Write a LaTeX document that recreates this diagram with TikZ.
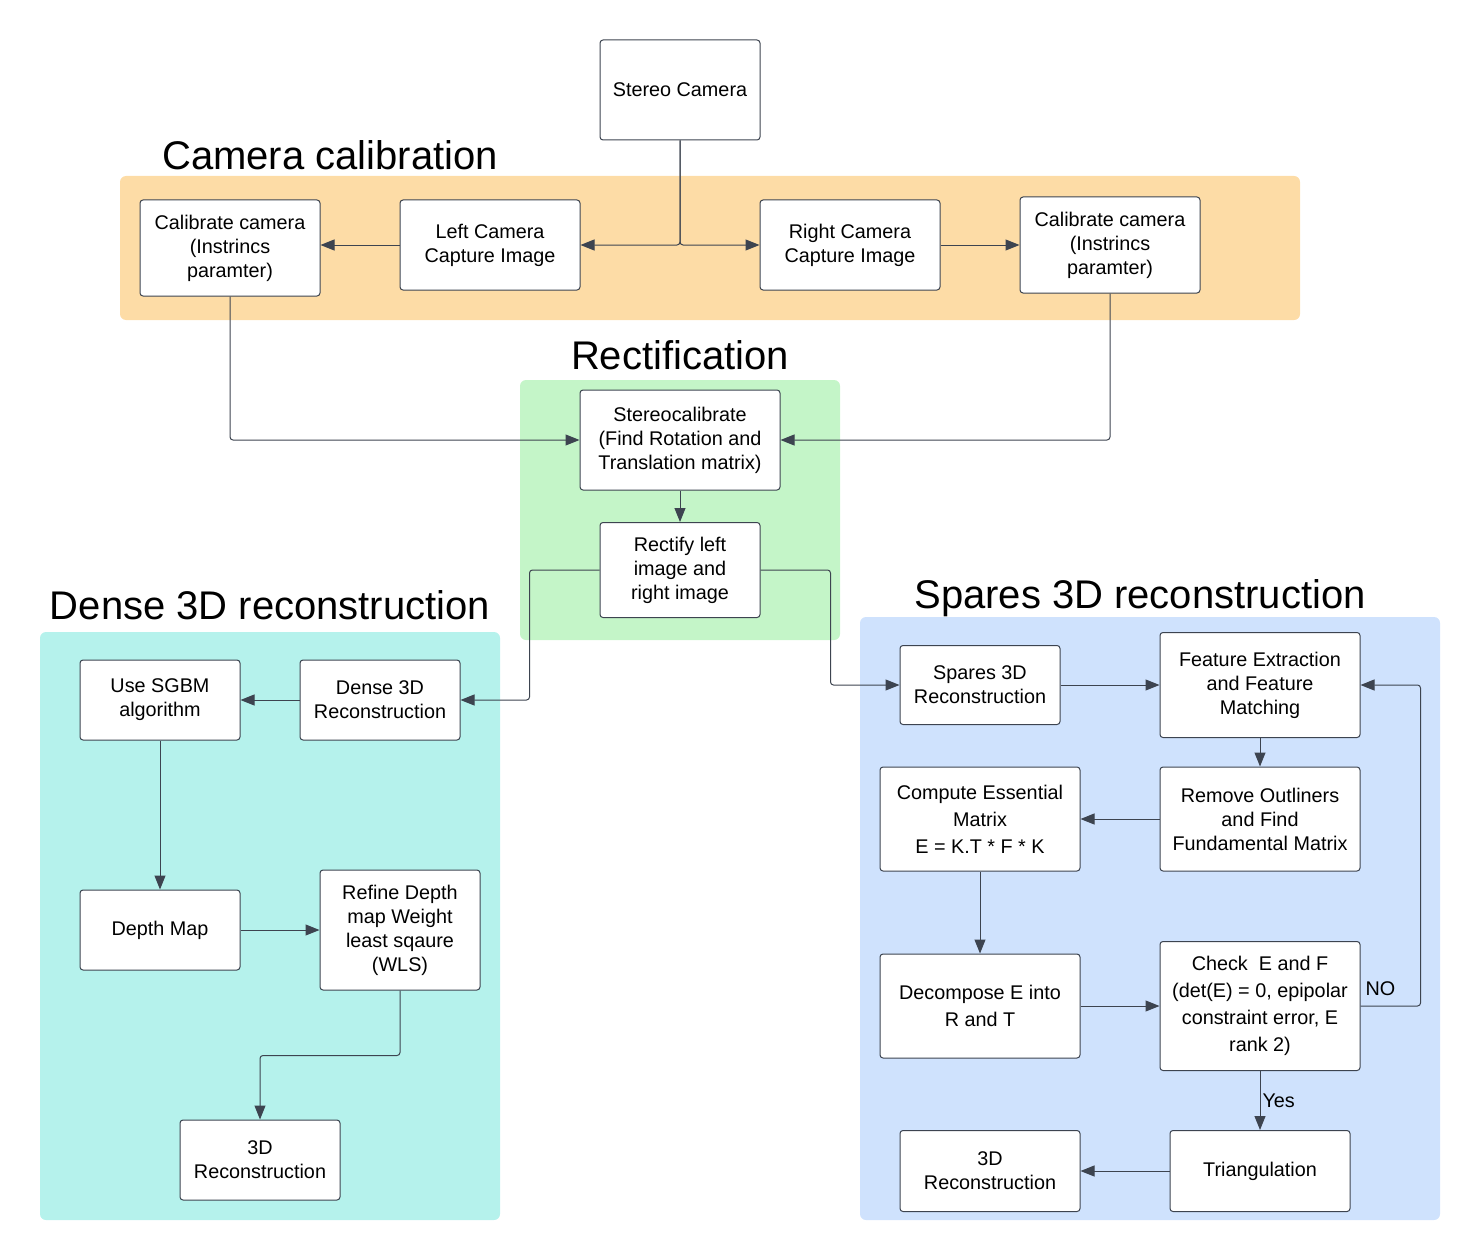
\documentclass[tikz,border=0pt]{standalone}
\usepackage{fontspec}
\setmainfont{Liberation Sans}
\usetikzlibrary{arrows.meta}
\definecolor{linecol}{HTML}{3D4450}
\definecolor{calibbg}{HTML}{FDDCA6}
\definecolor{rectbg}{HTML}{C4F5C8}
\definecolor{densebg}{HTML}{B5F2EC}
\definecolor{sparsebg}{HTML}{CFE2FD}

\begin{document}
\begin{tikzpicture}[x=1pt, y=-1pt,
			mynode/.style={draw=linecol, fill=white, line width=1pt, rounded corners=3pt, align=center, inner sep=0pt, font=\fontsize{19.8}{24}\selectfont},
			tallnode/.style={mynode, font=\fontsize{19.8}{27}\selectfont},
			myarrow/.style={draw=linecol, line width=1pt, rounded corners=3pt, -{Triangle[length=14pt,width=11pt]}},
			mytitle/.style={font=\fontsize{40}{48}\selectfont},
			mylabel/.style={font=\fontsize{19.8}{22}\selectfont, inner sep=2pt}
		]
		\useasboundingbox (0,0) rectangle (1480,1260);

		% panels
		\fill[calibbg, rounded corners=6pt] (120,176) rectangle (1300,320);
		\fill[rectbg, rounded corners=6pt] (520,380) rectangle (840,640);
		\fill[densebg, rounded corners=6pt] (40,632) rectangle (500,1220);
		\fill[sparsebg, rounded corners=6pt] (860,617) rectangle (1440,1220);

		\node[mytitle] (tcalib) at (330,155) {Camera calibration};
		\node[mytitle] (trect) at (680,355) {Rectification};
		\node[mytitle] (tdense) at (270,605) {Dense 3D reconstruction};
		\node[mytitle] (tsparse) at (1140,598) {Spares 3D reconstruction};

		% camera calibration
		\node[mynode, minimum width=160pt, minimum height=100pt] (stereo) at (680,90) {Stereo Camera};
		\node[mynode, minimum width=180pt, minimum height=96pt] (calL) at (230,248) {Calibrate camera\\(Instrincs\\paramter)};
		\node[mynode, minimum width=180pt, minimum height=90pt] (capL) at (490,245) {Left Camera\\Capture Image};
		\node[mynode, minimum width=180pt, minimum height=90pt] (capR) at (850,245) {Right Camera\\Capture Image};
		\node[mynode, minimum width=180pt, minimum height=96pt] (calR) at (1110,245) {Calibrate camera\\(Instrincs\\paramter)};

		% rectification
		\node[mynode, minimum width=200pt, minimum height=100pt] (stcal) at (680,440) {Stereocalibrate\\(Find Rotation and\\Translation matrix)};
		\node[mynode, minimum width=160pt, minimum height=95pt] (rectify) at (680,570) {Rectify left\\image and\\right image};

		% dense
		\node[mynode, minimum width=160pt, minimum height=80pt] (sgbm) at (160,700) {Use SGBM\\algorithm};
		\node[mynode, minimum width=160pt, minimum height=80pt] (dense) at (380,700) {Dense 3D\\Reconstruction};
		\node[mynode, minimum width=160pt, minimum height=80pt] (depth) at (160,930) {Depth Map};
		\node[mynode, minimum width=160pt, minimum height=120pt] (refine) at (400,930) {Refine Depth\\map Weight\\least sqaure\\(WLS)};
		\node[mynode, minimum width=160pt, minimum height=80pt] (recdense) at (260,1160) {3D\\Reconstruction};

		% sparse
		\node[mynode, minimum width=160pt, minimum height=79pt] (spares) at (980,685) {Spares 3D\\Reconstruction};
		\node[mynode, minimum width=200pt, minimum height=105pt] (feat) at (1260,685) {Feature Extraction\\and Feature\\Matching};
		\node[mynode, minimum width=200pt, minimum height=104pt] (outl) at (1260,819) {Remove Outliners\\and Find\\Fundamental Matrix};
		\node[tallnode, minimum width=200pt, minimum height=104pt] (essen) at (980,819) {Compute Essential\\Matrix\\E = K.T * F * K};
		\node[tallnode, minimum width=200pt, minimum height=104pt] (decomp) at (980,1006) {Decompose E into\\R and T};
		\node[tallnode, minimum width=200pt, minimum height=129pt] (check) at (1260,1006) {Check \ E and F\\(det(E) = 0, epipolar\\constraint error, E\\rank 2)};
		\node[mynode, minimum width=180pt, minimum height=81pt] (triang) at (1260,1171) {Triangulation};
		\node[mynode, minimum width=180pt, minimum height=81pt] (recsparse) at (990,1171) {3D\\Reconstruction};

		% connectors
		\draw[myarrow] (stereo.south) |- (capL.east);
		\draw[myarrow] (stereo.south) |- (capR.west);
		\draw[myarrow] (capL.west) -- (capL.west -| calL.east);
		\draw[myarrow] (capR.east) -- (calR.west);
		\draw[myarrow] (calL.south) |- (stcal.west);
		\draw[myarrow] (calR.south) |- (stcal.east);
		\draw[myarrow] (stcal.south) -- (rectify.north);
		\draw[myarrow] (rectify.west) -- ++(-70,0) |- (dense.east);
		\draw[myarrow] (rectify.east) -- ++(70,0) |- (spares.west);

		\draw[myarrow] (dense.west) -- (sgbm.east);
		\draw[myarrow] (sgbm.south) -- (depth.north);
		\draw[myarrow] (depth.east) -- (refine.west);
		\draw[myarrow] (refine.south) -- ++(0,65) -| (recdense.north);

		\draw[myarrow] (spares.east) -- (feat.west);
		\draw[myarrow] (feat.south) -- (outl.north);
		\draw[myarrow] (outl.west) -- (essen.east);
		\draw[myarrow] (essen.south) -- (decomp.north);
		\draw[myarrow] (decomp.east) -- (check.west);
		\draw[myarrow] (check.east) -- node[mylabel, above, xshift=-10pt, yshift=8pt] {NO} ++(60,0) |- (feat.east);
		\draw[myarrow] (check.south) -- node[mylabel, right] {Yes} (triang.north);
		\draw[myarrow] (triang.west) -- (recsparse.east);

	\end{tikzpicture}
\end{document}
